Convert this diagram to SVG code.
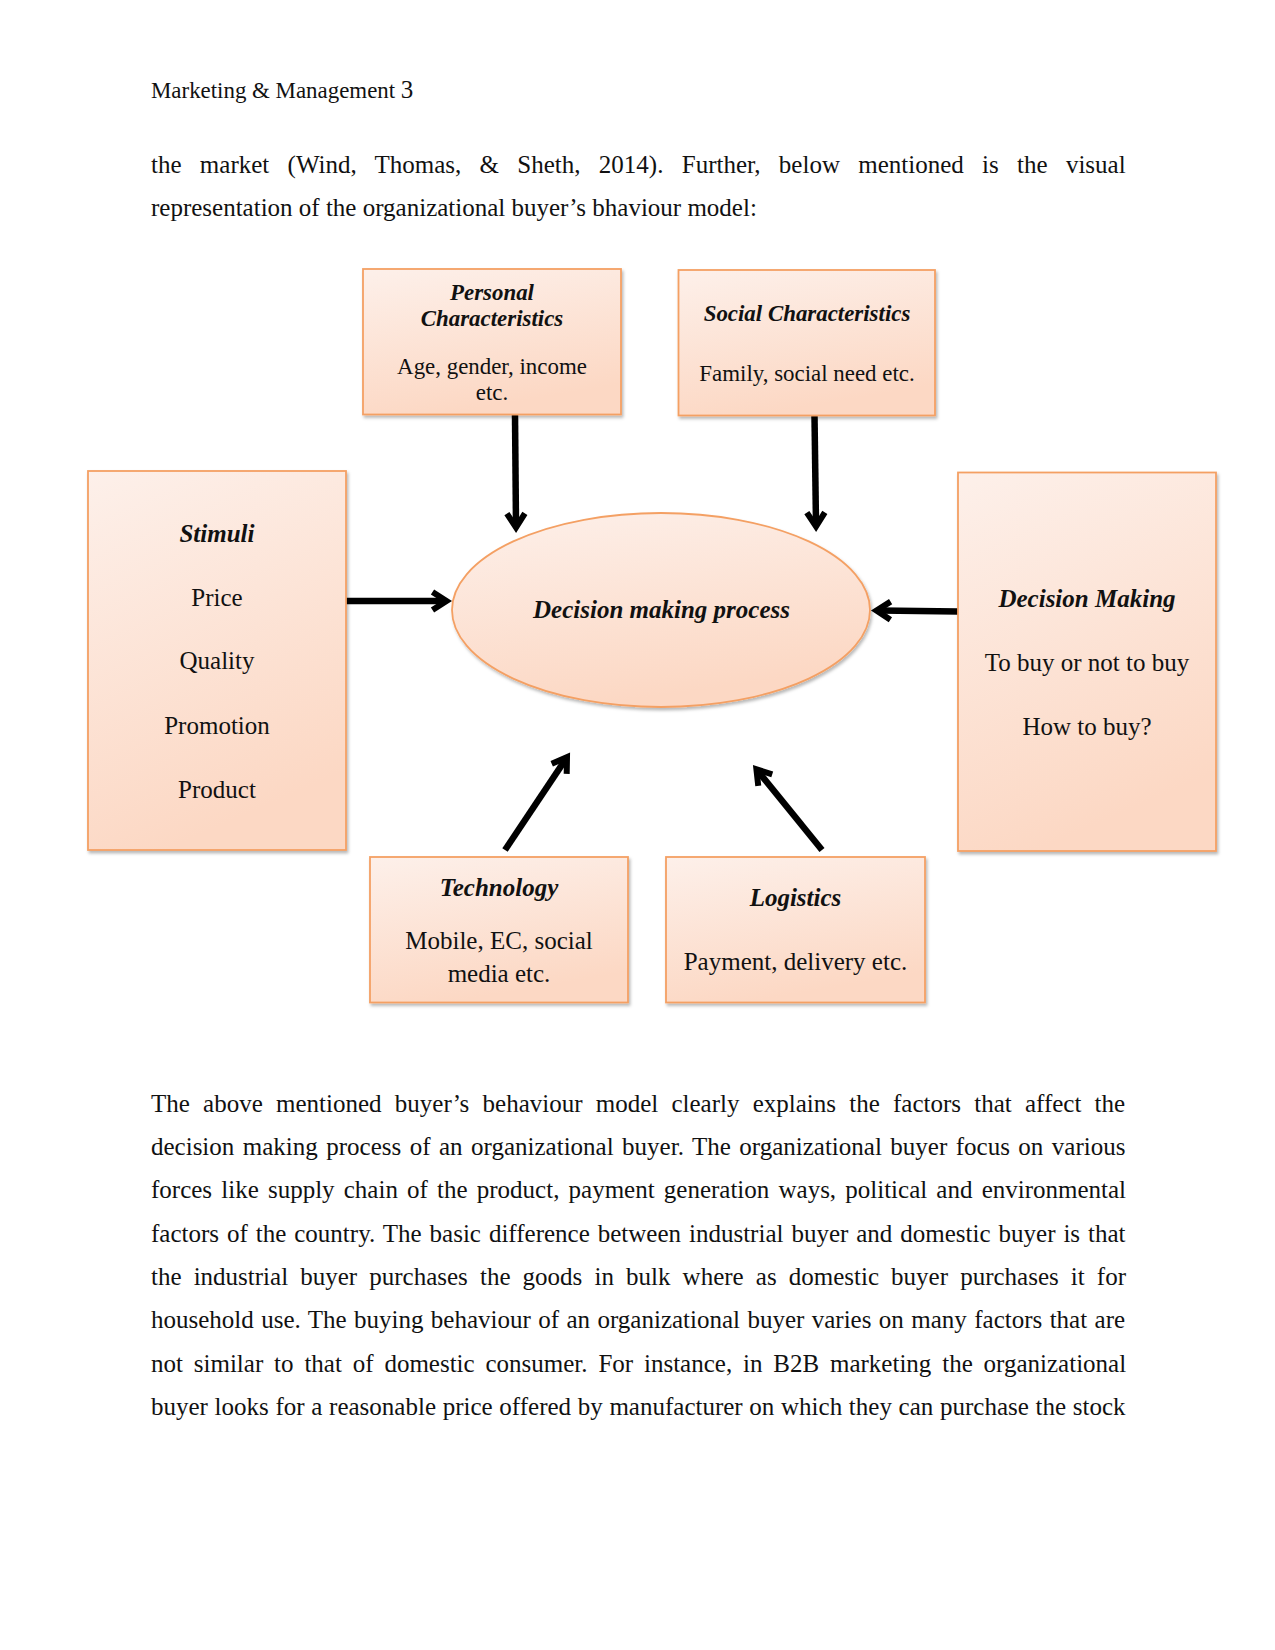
<svg xmlns="http://www.w3.org/2000/svg" width="1275" height="1650" viewBox="0 0 1275 1650">
  <style>
    .body { font-family: "Liberation Serif", "Times New Roman", serif; font-size: 25px; fill: #111; }
    .hdr { font-family: "Liberation Serif", "Times New Roman", serif; font-size: 22.9px; fill: #111; }
    .t11 { font-family: "Liberation Serif", "Times New Roman", serif; font-size: 22.9px; fill: #111; text-anchor: middle; }
    .t12 { font-family: "Liberation Serif", "Times New Roman", serif; font-size: 25px; fill: #111; text-anchor: middle; }
    .bi { font-weight: bold; font-style: italic; }
    .box { fill: url(#peach); stroke: #f4a064; stroke-width: 1.8; filter: url(#shadow); }
    .conn { stroke: #000; stroke-width: 6.5; fill: none; marker-end: url(#head); }
  </style>
  <defs>
    <linearGradient id="peach" x1="0" y1="0" x2="0.3" y2="1">
      <stop offset="0" stop-color="#fdf0ea"/>
      <stop offset="1" stop-color="#fcd8c4"/>
    </linearGradient>
    <filter id="shadow" x="-10%" y="-10%" width="130%" height="130%">
      <feDropShadow dx="1.5" dy="2.5" stdDeviation="1.6" flood-color="#000" flood-opacity="0.28"/>
    </filter>
    <marker id="head" markerUnits="userSpaceOnUse" markerWidth="40" markerHeight="40" viewBox="-20 -20 40 40" refX="0" refY="0" orient="auto" overflow="visible">
      <path d="M-11.5,-9 L2.5,0 L-11.5,9" fill="none" stroke="#000" stroke-width="6" stroke-linejoin="miter" stroke-miterlimit="10"/>
    </marker>
  </defs>
  <rect x="0" y="0" width="1275" height="1650" fill="#fff"/>

  <!-- header and body text -->
  <g id="page-text">
    <text class="hdr" x="151" y="98">Marketing &amp; Management <tspan font-size="25">3</tspan></text>
    <text class="body" x="151" y="172.7" word-spacing="12.05">the market (Wind, Thomas, &amp; Sheth, 2014). Further, below mentioned is the visual</text>
    <text class="body" x="151" y="215.5">representation of the organizational buyer’s bhaviour model:</text>

    <text class="body" x="151" y="1111.7" word-spacing="6.98">The above mentioned buyer’s behaviour model clearly explains the factors that affect the</text>
    <text class="body" x="151" y="1155" word-spacing="2.23">decision making process of an organizational buyer. The organizational buyer focus on various</text>
    <text class="body" x="151" y="1198.3" word-spacing="2.92">forces like supply chain of the product, payment generation ways, political and environmental</text>
    <text class="body" x="151" y="1241.6" word-spacing="1.71">factors of the country. The basic difference between industrial buyer and domestic buyer is that</text>
    <text class="body" x="151" y="1285" word-spacing="5.87">the industrial buyer purchases the goods in bulk where as domestic buyer purchases it for</text>
    <text class="body" x="151" y="1328.3" word-spacing="1.16">household use. The buying behaviour of an organizational buyer varies on many factors that are</text>
    <text class="body" x="151" y="1371.6" word-spacing="4.6">not similar to that of domestic consumer. For instance, in B2B marketing the organizational</text>
    <text class="body" x="151" y="1414.5" word-spacing="0.44">buyer looks for a reasonable price offered by manufacturer on which they can purchase the stock</text>
  </g>

  <!-- connectors -->
  <g id="connectors">
    <line class="conn" x1="515" y1="415" x2="516" y2="525"/>
    <line class="conn" x1="814.5" y1="416" x2="816" y2="524"/>
    <line class="conn" x1="346" y1="601" x2="444" y2="601"/>
    <line class="conn" x1="958" y1="611.5" x2="879" y2="610.5"/>
    <line class="conn" x1="505" y1="850" x2="565.6" y2="759.3"/>
    <line class="conn" x1="822" y1="850" x2="758" y2="771.2"/>
  </g>

  <g id="node-personal">
    <rect class="box" x="363" y="269" width="258" height="145.5"/>
    <text class="t11 bi" x="492" y="300">Personal</text>
    <text class="t11 bi" x="492" y="326">Characteristics</text>
    <text class="t11" x="492" y="373.5">Age, gender, income</text>
    <text class="t11" x="492" y="399.5">etc.</text>
  </g>

  <g id="node-social">
    <rect class="box" x="678.5" y="270" width="256.5" height="145.5"/>
    <text class="t11 bi" x="807" y="321">Social Characteristics</text>
    <text class="t11" x="807" y="380.5">Family, social need etc.</text>
  </g>

  <g id="node-stimuli">
    <rect class="box" x="88" y="471" width="258" height="379"/>
    <text class="t12 bi" x="217" y="542">Stimuli</text>
    <text class="t12" x="217" y="605.5">Price</text>
    <text class="t12" x="217" y="669">Quality</text>
    <text class="t12" x="217" y="734">Promotion</text>
    <text class="t12" x="217" y="798">Product</text>
  </g>

  <g id="node-decision-making">
    <rect class="box" x="958" y="472.5" width="258" height="378.5"/>
    <text class="t12 bi" x="1087" y="606.5">Decision Making</text>
    <text class="t12" x="1087" y="670.5">To buy or not to buy</text>
    <text class="t12" x="1087" y="734.5">How to buy?</text>
  </g>

  <g id="node-process">
    <ellipse class="box" cx="661" cy="610" rx="209" ry="97"/>
    <text class="t12 bi" x="661.5" y="618">Decision making process</text>
  </g>

  <g id="node-technology">
    <rect class="box" x="370" y="857" width="258" height="145.5"/>
    <text class="t12 bi" x="499" y="895.5">Technology</text>
    <text class="t12" x="499" y="949">Mobile, EC, social</text>
    <text class="t12" x="499" y="981.5">media etc.</text>
  </g>

  <g id="node-logistics">
    <rect class="box" x="666" y="857" width="259" height="145.5"/>
    <text class="t12 bi" x="795.5" y="906">Logistics</text>
    <text class="t12" x="795.5" y="970">Payment, delivery etc.</text>
  </g>
</svg>
